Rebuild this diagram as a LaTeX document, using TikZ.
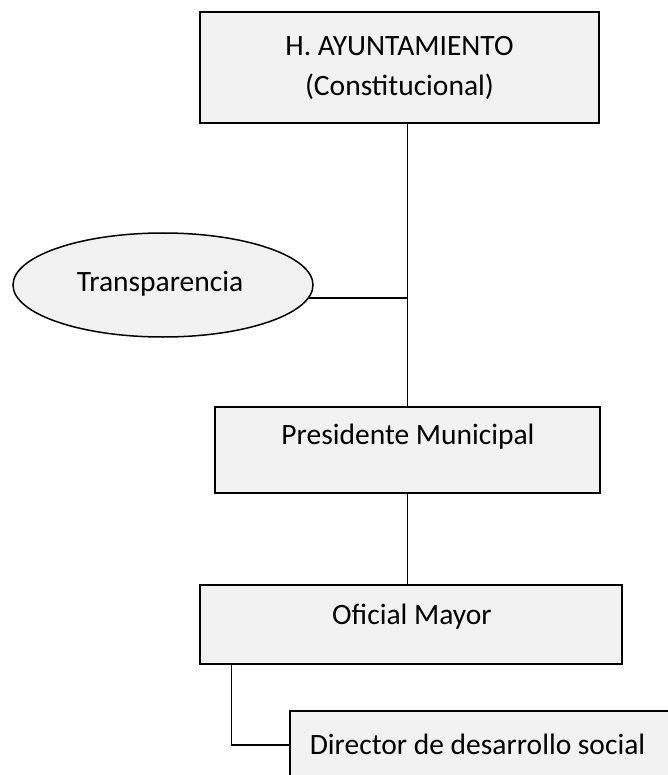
\documentclass[tikz,border=0pt]{standalone}
\usepackage{fontspec}
\setmainfont{Carlito}
\usetikzlibrary{shapes.geometric}
\definecolor{boxgray}{HTML}{F2F2F2}
\tikzset{
  box/.style={draw, fill=boxgray, line width=1.5pt, inner sep=0pt},
  boxtext/.style={font=\fontsize{29.5}{40}\selectfont, align=center, inner sep=0pt},
  link/.style={line width=1.5pt}
}

\begin{document}
\begin{tikzpicture}[x=1pt, y=-1pt]
    \useasboundingbox (0,0) rectangle (668,775);
    \node (ayto) [box, boxtext, minimum width=399pt, minimum height=111pt] at (399.5,67.5)
      {H. AYUNTAMIENTO\\(Constitucional)};
    \node (transp) [ellipse, box, minimum width=300pt, minimum height=104pt] at (163,285) {};
    \node (transp-t) [boxtext, anchor=base] at (160,291) {Transparencia};
    \node (pres) [box, minimum width=385pt, minimum height=86pt] at (407.5,450) {};
    \node (pres-t) [boxtext, anchor=base] at (408,444) {Presidente Municipal};
    \node (ofi) [box, minimum width=422pt, minimum height=79pt] at (411,624.5) {};
    \node (ofi-t) [boxtext, anchor=base] at (412,624) {Oficial Mayor};
    \node (dir) [box, minimum width=390pt, minimum height=68pt] at (485,745) {};
    \node (dir-t) [boxtext, anchor=base] at (477.5,754) {Director de desarrollo social};
    \draw[link] (pres.north |- ayto.south) -- (pres.north);
    \draw[link] (transp.-5) -- (transp.-5 -| pres.north);
    \draw[link] (pres.south) -- (pres.south |- ofi.north);
    \draw[link] ([xshift=32pt]ofi.south west) |- (dir.west);
\end{tikzpicture}
\end{document}
